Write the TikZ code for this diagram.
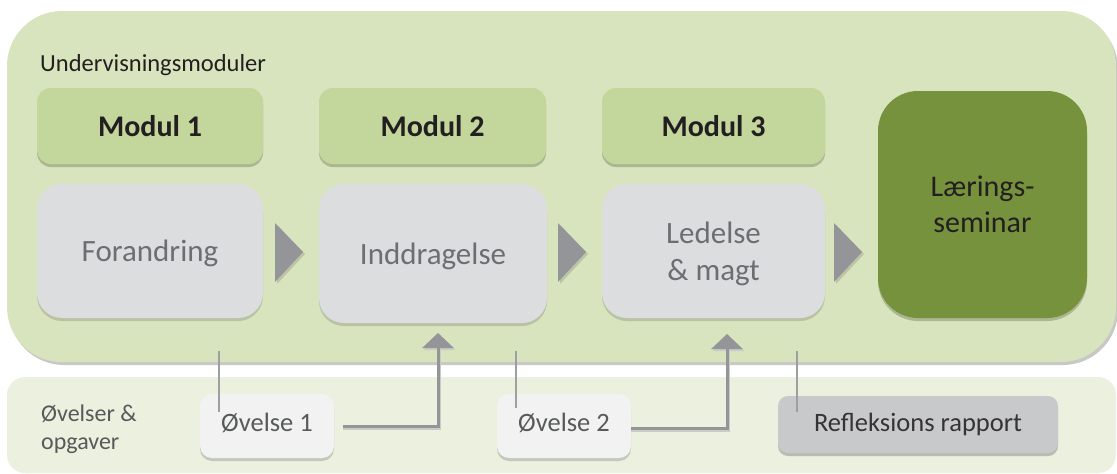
\documentclass[tikz,border=0pt]{standalone}
\usepackage{fontspec}
\setmainfont{Carlito}
\usetikzlibrary{shadows,arrows.meta}
\definecolor{outerfill}{HTML}{D7E4BD}
\definecolor{outershadow}{HTML}{C8C9C6}
\definecolor{bandfill}{HTML}{EBF1DE}
\definecolor{modfill}{HTML}{C3D69B}
\definecolor{modshadow}{HTML}{ABB791}
\definecolor{grayfill}{HTML}{DCDDDF}
\definecolor{grayshadow}{HTML}{B9C2A3}
\definecolor{seminarfill}{HTML}{76923C}
\definecolor{exfill}{HTML}{F2F2F2}
\definecolor{exshadow}{HTML}{C5C8BC}
\definecolor{reffill}{HTML}{C8C9CB}
\definecolor{refshadow}{HTML}{B9BCB0}
\definecolor{arrowgray}{HTML}{939598}
\definecolor{trishadow}{HTML}{BCC4A6}
\definecolor{linegray}{HTML}{9D9FA2}
\definecolor{lineshadow}{HTML}{C9CBC6}
\definecolor{darktext}{HTML}{231F20}
\definecolor{graytext}{HTML}{6D6E71}
\definecolor{midtext}{HTML}{58595B}
\begin{document}
\begin{tikzpicture}[x=1pt,y=-1pt,
  box/.style={rectangle, inner sep=0pt, align=center},
  modbox/.style={box, fill=modfill, rounded corners=14pt, minimum width=226pt, minimum height=76pt,
    text=darktext, font=\fontsize{30}{36}\selectfont\bfseries,
    general shadow={fill=modshadow, shadow yshift=-3pt}},
  graybox/.style={box, fill=grayfill, rounded corners=25pt, minimum width=226pt,
    text=graytext, font=\fontsize{31}{37}\selectfont, text depth=0pt,
    general shadow={fill=grayshadow, shadow yshift=-3pt}},
  exbox/.style={box, fill=exfill, rounded corners=12pt, minimum width=134pt, minimum height=64pt,
    text=midtext, font=\fontsize{26.5}{30}\selectfont, text depth=8pt,
    general shadow={fill=exshadow, shadow yshift=-3pt}},
  tri/.style={fill=arrowgray},
  trishade/.style={fill=trishadow},
  vline/.style={draw=linegray, line width=2pt},
  conn/.style={draw=arrowgray, line width=3pt, -{Triangle[width=31pt,length=15pt]}},
  connshade/.style={draw=lineshadow, line width=3pt, -{Triangle[width=31pt,length=15pt]}}
]
\useasboundingbox (0,0) rectangle (1117,474);
% containers
\node[box, fill=outerfill, rounded corners=55pt, minimum width=1109pt, minimum height=351pt,
  general shadow={fill=outershadow, shadow xshift=2pt, shadow yshift=-3pt}] (outer) at (561.5,186.5) {};
\node[box, fill=bandfill, rounded corners=18pt, minimum width=1109pt, minimum height=96pt] (band) at (561.5,425) {};
% labels
\node[anchor=base west, inner sep=0pt, text=darktext, font=\fontsize{24.5}{29}\selectfont] (title) at (40,71) {Undervisningsmoduler};
\node[anchor=north west, inner sep=0pt, align=left, text=midtext, font=\fontsize{24}{28}\selectfont] (exlabel) at (41,405) {Øvelser \&\\opgaver};
% modules
\node[modbox] (m1) at (150,126) {Modul 1};
\node[modbox, minimum width=227pt] (m2) at (432.5,126) {Modul 2};
\node[modbox, minimum width=223pt] (m3) at (713.5,126) {Modul 3};
\node[graybox, minimum height=134pt] (g1) at (150,251) {Forandring};
\node[graybox, minimum width=228pt, minimum height=139pt] (g2) at (433,253.5) {Inddragelse};
\node[graybox, minimum width=223pt, minimum height=134pt] (g3) at (713.5,251) {Ledelse\\\& magt};
\node[box, fill=seminarfill, rounded corners=40pt, minimum width=209pt, minimum height=227pt,
  text=darktext, font=\fontsize{30}{36}\selectfont,
  general shadow={fill=modshadow, shadow yshift=-3pt}] (sem) at (982.5,204.5) {Lærings-\\seminar};
% triangles between modules
\foreach \x in {275,558,834}{
  \fill[trishade] (\x+2,225) -- (\x+30,254) -- (\x+2,284) -- cycle;
  \fill[tri] (\x,223) -- (\x+28,252) -- (\x,282) -- cycle;
}
% exercises
\node[exbox] (ex1) at (267,426) {Øvelse 1};
\node[exbox] (ex2) at (564,426) {Øvelse 2};
\node[box, fill=reffill, rounded corners=10pt, minimum width=280pt, minimum height=57pt,
  text=darktext!75!graytext, font=\fontsize{26.5}{30}\selectfont,
  general shadow={fill=refshadow, shadow yshift=-3pt}] (ref) at (918,424.5) {Refleksions rapport};
% connector coordinates
\coordinate (v1a) at (219,351); \coordinate (v1b) at (219,412);
\coordinate (v2a) at (516,351); \coordinate (v2b) at (516,408);
\coordinate (v3a) at (797,351); \coordinate (v3b) at (797,412);
\coordinate (t1) at (438,333);
\coordinate (t2) at (727,334);
% vertical lines
\draw[vline] (v1a) -- (v1b);
\draw[vline] (v2a) -- (v2b);
\draw[vline] (v3a) -- (v3b);
% arrows
\draw[connshade] ([xshift=9pt,yshift=-2pt]ex1.east) -| ([xshift=1.5pt,yshift=-2pt]t1);
\draw[conn] ([xshift=9pt]ex1.east) -| (t1);
\draw[connshade] ([yshift=-4pt]ex2.east) -| ([xshift=1.5pt,yshift=-2pt]t2);
\draw[conn] ([yshift=-2pt]ex2.east) -| (t2);
\end{tikzpicture}
\end{document}
